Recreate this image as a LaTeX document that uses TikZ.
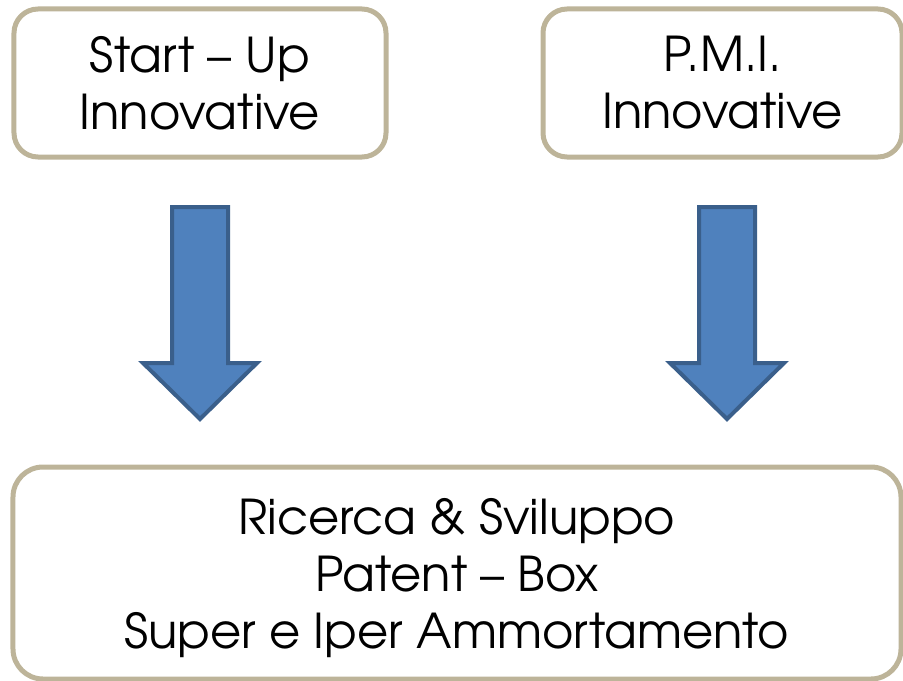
\documentclass[tikz,border=0pt]{standalone}
\usepackage{fontspec}
\setmainfont{TeX Gyre Adventor}
\definecolor{boxline}{HTML}{BDB499}
\definecolor{arrfill}{HTML}{4F81BD}
\definecolor{arrline}{HTML}{3A5F8B}
\begin{document}
\begin{tikzpicture}[x=1bp,y=-1bp,
  box/.style={draw=boxline, line width=5bp, fill=white, align=center,
    font=\fontsize{48bp}{57bp}\selectfont, inner sep=0pt},
  txt/.style={align=center, font=\fontsize{48bp}{57bp}\selectfont, inner sep=0pt},
  blockarrow/.style={fill=arrfill, draw=arrline, line width=4bp, line join=miter},
  downarrow/.pic={\draw[blockarrow] (-28,0) -- (28,0) -- (28,156) -- (57,156) -- (0,212) -- (-57,156) -- (-28,156) -- cycle;}]
\useasboundingbox (0,0) rectangle (903,681);
\clip (0,0) rectangle (903,681);
\node[box, rounded corners=24bp, minimum width=372bp, minimum height=148bp] (startup) at (200,83) {Start – Up\\Innovative};
\node[box, rounded corners=24bp, minimum width=359bp, minimum height=148bp] (pmi) at (722.5,83) {P.M.I.\\Innovative};
\node[box, rounded corners=30bp, minimum width=888bp, minimum height=212bp] (result) at (457,573) {};
\node[txt] (resulttext) at ([yshift=-5bp]result.center) {Ricerca \& Sviluppo\\Patent – Box\\Super e Iper Ammortamento};
\coordinate (arrowL) at (200,207);
\coordinate (arrowR) at (727,207);
\pic at (arrowL) {downarrow};
\pic at (arrowR) {downarrow};
\end{tikzpicture}
\end{document}
